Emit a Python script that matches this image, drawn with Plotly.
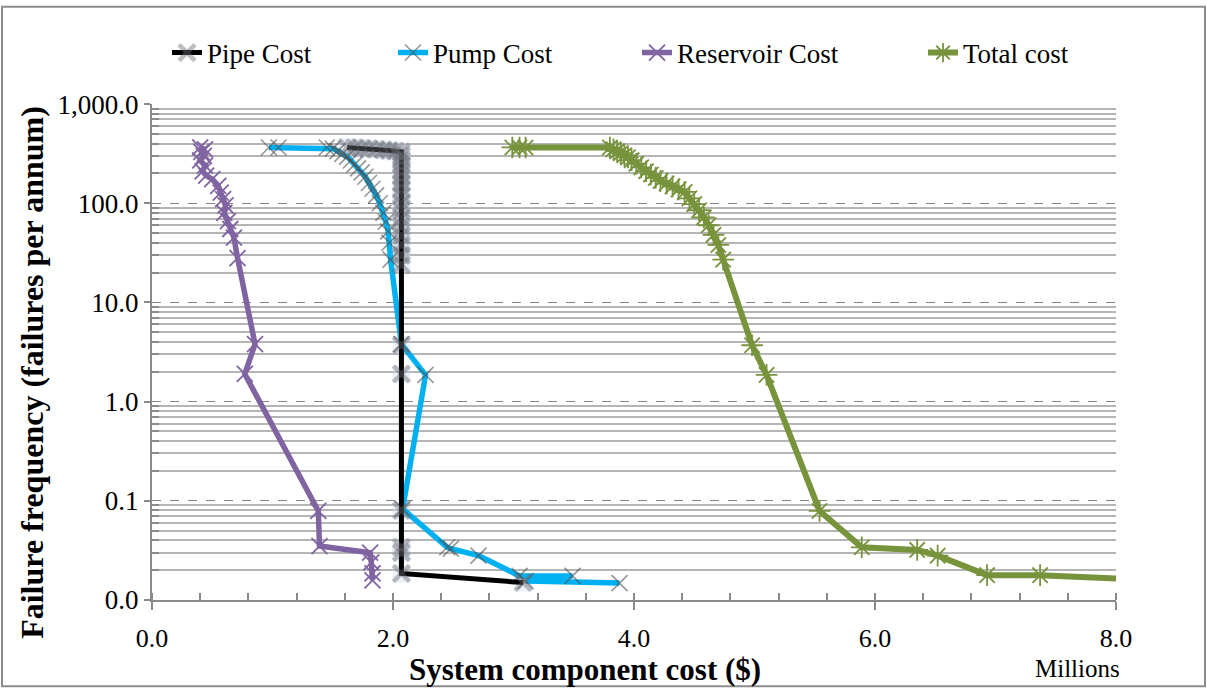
import plotly.graph_objects as go

# ---- data (cost in $ millions, failure frequency in failures per annum) ----
pipe_cost = [1.62, 1.68, 1.74, 1.80, 1.86, 1.92, 1.97, 2.02, 2.07, 2.07, 2.07, 2.07, 2.07,
             2.07, 2.07, 2.07, 2.07, 2.07, 2.07, 2.07, 2.07, 2.07, 2.07, 2.07, 2.07,
             2.07, 2.07, 2.07, 2.07, 2.07, 2.07, 3.08]
pipe_freq = [365, 362, 358, 355, 350, 345, 340, 335, 330, 300, 270, 240, 210,
             185, 160, 140, 120, 100, 85, 70, 58, 47, 38, 30, 24,
             3.7, 1.9, 0.08, 0.034, 0.030, 0.0185, 0.0150]

pump_cost = [0.97, 1.05, 1.45, 1.50, 1.54, 1.58, 1.62, 1.65, 1.68, 1.71, 1.74, 1.77,
             1.80, 1.83, 1.86, 1.89, 1.92, 1.94, 1.96, 1.97, 1.98, 2.07, 2.27, 2.08,
             2.45, 2.48, 2.71, 3.05, 3.49, 3.10, 3.88]
pump_freq = [365, 365, 365, 355, 335, 315, 295, 270, 245, 225, 205, 185,
             160, 140, 120, 100, 80, 65, 52, 40, 27, 3.8, 1.86, 0.083,
             0.034, 0.033, 0.028, 0.0175, 0.0175, 0.0155, 0.0148]

reservoir_cost = [0.40, 0.44, 0.41, 0.43, 0.40, 0.44, 0.42, 0.45, 0.50, 0.55, 0.57, 0.59,
                  0.61, 0.60, 0.63, 0.65, 0.68, 0.71, 0.855, 0.77, 1.38, 1.39, 1.81,
                  1.82, 1.83, 1.83]
reservoir_freq = [365, 350, 330, 300, 270, 240, 210, 190, 175, 150, 128, 110,
                  95, 80, 66, 55, 45, 28, 3.8, 1.9, 0.079, 0.035, 0.030,
                  0.024, 0.0186, 0.0158]

total_cost = [2.99, 3.05, 3.10, 3.80, 3.83, 3.86, 3.89, 3.92, 3.95, 3.98, 4.02, 4.06,
              4.10, 4.14, 4.18, 4.22, 4.27, 4.32, 4.37, 4.42, 4.46, 4.50, 4.54, 4.58,
              4.62, 4.66, 4.70, 4.74, 4.98, 5.10, 5.54, 5.89, 6.35, 6.52, 6.93, 7.37, 8.76]
total_freq = [365, 365, 365, 365, 350, 335, 320, 305, 290, 272, 250, 230,
              210, 195, 180, 168, 158, 148, 138, 130, 112, 98, 85, 72,
              60, 48, 38, 27, 3.7, 1.86, 0.079, 0.034, 0.032, 0.028, 0.0178, 0.0178, 0.015]

threshold_freq = 0.1

x_ticks = [0, 2, 4, 6, 8]
y_ticks = [0.01, 0.1, 1, 10, 100, 1000]
y_tick_labels = ["0.0", "0.1", "1.0", "10.0", "100.0", "1,000.0"]

FONT = "Liberation Serif"
GRAY_AXIS = "#8a8a8a"

fig = go.Figure()

# pale halo behind the pipe markers
fig.add_trace(go.Scatter(
    x=pipe_cost, y=pipe_freq, mode="markers", showlegend=False, hoverinfo="skip",
    marker=dict(symbol="square", size=18, color="rgba(200,214,232,0.35)", line=dict(width=0)),
))

fig.add_trace(go.Scatter(
    x=pump_cost, y=pump_freq, mode="lines+markers", name="Pump Cost", legend="legend2",
    line=dict(color="#00B0F0", width=5.5),
    marker=dict(symbol="x-thin", size=16, color="rgba(80,80,80,0.6)",
                line=dict(width=1.6, color="rgba(80,80,80,0.6)")),
))

fig.add_trace(go.Scatter(
    x=pipe_cost, y=pipe_freq, mode="lines+markers", name="Pipe Cost", legend="legend",
    line=dict(color="#000000", width=5),
    marker=dict(symbol="x-thin", size=16, color="rgba(110,110,120,0.45)",
                line=dict(width=4.5, color="rgba(110,110,120,0.45)")),
))

fig.add_trace(go.Scatter(
    x=reservoir_cost, y=reservoir_freq, mode="lines+markers", name="Reservoir Cost",
    legend="legend3",
    line=dict(color="#8064A2", width=5.5),
    marker=dict(symbol="x-thin", size=16, color="#8064A2", line=dict(width=1.8, color="#8064A2")),
))

fig.add_trace(go.Scatter(
    x=total_cost, y=total_freq, mode="lines+markers", name="Total cost", legend="legend4",
    line=dict(color="#77933C", width=6),
    marker=dict(symbol="asterisk-open", size=18, color="#77933C",
                line=dict(width=1.8, color="#77933C")),
))

# reliability threshold
fig.add_hline(y=threshold_freq, line=dict(color="#FF0000", width=3.5), layer="above")

minor_y = [m * 10 ** e for e in range(-2, 3) for m in range(2, 10)]

legend_common = dict(
    orientation="h", xref="container", yref="container", xanchor="left", yanchor="middle",
    font=dict(family=FONT, size=27, color="#000"), bgcolor="rgba(0,0,0,0)", borderwidth=0,
)
legend_text_x = [207, 433, 677, 963]
legend_y = 1 - 53 / 690

fig.update_layout(
    width=1207, height=690,
    margin=dict(l=152, r=91, t=100, b=90),
    paper_bgcolor="white", plot_bgcolor="white",
    font=dict(family=FONT, size=27, color="#000"),
    legend=dict(legend_common, x=(legend_text_x[0] - 40) / 1207, y=legend_y),
    legend2=dict(legend_common, x=(legend_text_x[1] - 40) / 1207, y=legend_y),
    legend3=dict(legend_common, x=(legend_text_x[2] - 40) / 1207, y=legend_y),
    legend4=dict(legend_common, x=(legend_text_x[3] - 40) / 1207, y=legend_y),
    xaxis=dict(
        range=[0, 8], tickvals=x_ticks, tickformat=".1f",
        ticks="outside", ticklen=8, tickwidth=1.5, tickcolor=GRAY_AXIS,
        showline=True, linecolor=GRAY_AXIS, linewidth=2, showgrid=False, zeroline=False,
        ticklabelstandoff=6,
        minor=dict(dtick=0.4, ticks="inside", ticklen=7, tickwidth=1.5, tickcolor=GRAY_AXIS,
                   showgrid=False),
        tickfont=dict(family=FONT, size=26, color="#000"),
    ),
    yaxis=dict(
        type="log", range=[-2, 3], tickmode="array", tickvals=y_ticks, ticktext=y_tick_labels,
        ticks="outside", ticklen=6, tickwidth=1.5, tickcolor=GRAY_AXIS,
        showline=True, linecolor=GRAY_AXIS, linewidth=2, zeroline=False,
        showgrid=True, gridcolor="#858585", gridwidth=1.3, griddash="dash",
        minor=dict(tickmode="array", tickvals=minor_y, ticks="inside", ticklen=7,
                   tickwidth=1.5, tickcolor=GRAY_AXIS,
                   showgrid=True, gridcolor="#b5b5b5", gridwidth=1.6, griddash="solid"),
        tickfont=dict(family=FONT, size=27, color="#000"),
    ),
    annotations=[
        dict(text="System component cost ($)", xref="paper", yref="paper",
             x=(585 - 152) / 964, y=(600 - 670) / 500, showarrow=False,
             xanchor="center", yanchor="middle",
             font=dict(family=FONT, size=31, weight="bold", color="#000")),
        dict(text="Failure frequency (failures per annum)", xref="paper", yref="paper",
             x=(32 - 152) / 964, y=(600 - 371) / 500, showarrow=False, textangle=-90,
             xanchor="center", yanchor="middle",
             font=dict(family=FONT, size=32, weight="bold", color="#000")),
        dict(text="Millions", xref="paper", yref="paper",
             x=(1077 - 152) / 964, y=(600 - 669) / 500, showarrow=False,
             xanchor="center", yanchor="middle",
             font=dict(family=FONT, size=25, color="#000")),
    ],
    shapes=[
        dict(type="rect", xref="paper", yref="paper", layer="below",
             x0=(2 - 152) / 964, x1=(1205 - 152) / 964,
             y0=(600 - 687) / 500, y1=(600 - 2) / 500,
             line=dict(color="#8c8c8c", width=2), fillcolor="rgba(0,0,0,0)"),
    ],
)

fig.write_html("out.html")
